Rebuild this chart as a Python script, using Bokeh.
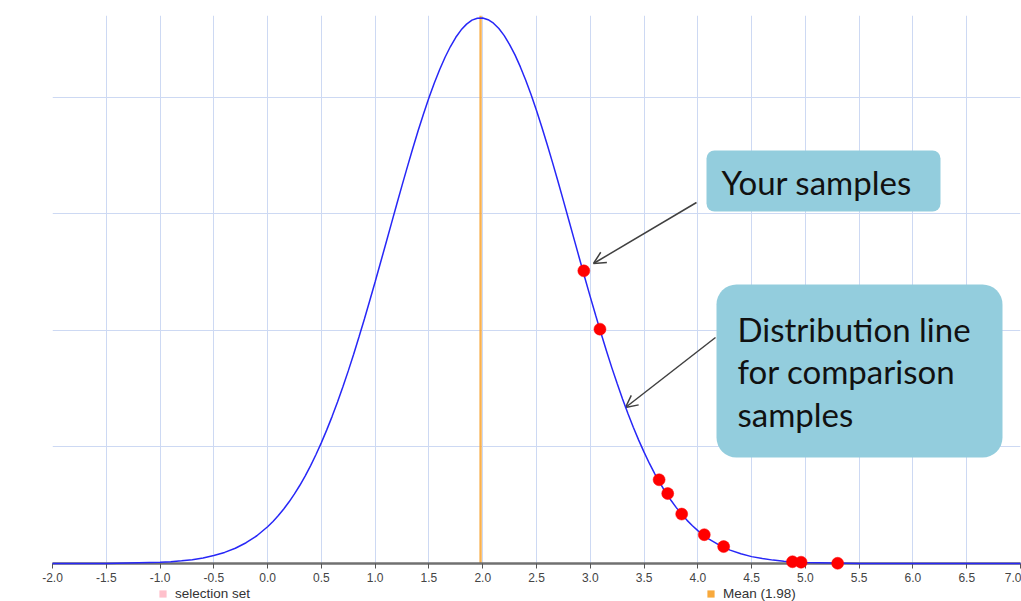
from bokeh.plotting import figure
from bokeh.layouts import column
from bokeh.models import (Range1d, FixedTicker, NumeralTickFormatter, BoxAnnotation,
                          Label, Arrow, OpenHead, Legend, LegendItem)
from bokeh.embed import file_html
from bokeh.resources import INLINE

# ---- data ----
curve_x = [-2.0, -1.5, -1.0, -0.9, -0.8, -0.7, -0.6, -0.5, -0.4, -0.3, -0.2, -0.1,
           0.0, 0.05, 0.1, 0.15, 0.2, 0.25, 0.3, 0.35, 0.4, 0.45,
           0.5, 0.55, 0.6, 0.65, 0.7, 0.75, 0.8, 0.85, 0.9, 0.95,
           1.0, 1.05, 1.1, 1.15, 1.2, 1.25, 1.3, 1.35, 1.4, 1.45,
           1.5, 1.55, 1.6, 1.65, 1.7, 1.75, 1.8, 1.85, 1.9, 1.95,
           2.0, 2.05, 2.1, 2.15, 2.2, 2.25, 2.3, 2.35, 2.4, 2.45,
           2.5, 2.55, 2.6, 2.65, 2.7, 2.75, 2.8, 2.85, 2.9, 2.95,
           3.0, 3.05, 3.1, 3.15, 3.2, 3.25, 3.3, 3.35, 3.4, 3.45,
           3.5, 3.55, 3.6, 3.65, 3.7, 3.75, 3.8, 3.85, 3.9, 3.95,
           4.0, 4.1, 4.2, 4.3, 4.4, 4.5, 4.6, 4.7, 4.8, 4.9,
           5.0, 5.5, 6.0, 7.0]
curve_y = [0.0, 0.0001, 0.0010, 0.0016, 0.0023, 0.0033, 0.0048, 0.0068, 0.0095, 0.0131, 0.0178, 0.0238,
           0.0315, 0.0361, 0.0411, 0.0467, 0.0529, 0.0597, 0.0671, 0.0752, 0.0840, 0.0935,
           0.1037, 0.1146, 0.1262, 0.1385, 0.1516, 0.1652, 0.1795, 0.1944, 0.2097, 0.2255,
           0.2417, 0.2581, 0.2747, 0.2913, 0.3079, 0.3243, 0.3404, 0.3562, 0.3713, 0.3857,
           0.3994, 0.4121, 0.4237, 0.4342, 0.4434, 0.4513, 0.4577, 0.4626, 0.4660, 0.4677,
           0.4679, 0.4664, 0.4634, 0.4588, 0.4527, 0.4451, 0.4362, 0.4259, 0.4145, 0.4020,
           0.3885, 0.3742, 0.3592, 0.3436, 0.3276, 0.3112, 0.2946, 0.2780, 0.2614, 0.2449,
           0.2287, 0.2129, 0.1974, 0.1825, 0.1680, 0.1543, 0.1411, 0.1286, 0.1168, 0.1058,
           0.0955, 0.0858, 0.0769, 0.0687, 0.0611, 0.0542, 0.0479, 0.0422, 0.0370, 0.0324,
           0.0282, 0.0212, 0.0158, 0.0115, 0.0083, 0.0059, 0.0042, 0.0029, 0.0020, 0.0013,
           0.0009, 0.0001, 0.0, 0.0]

sample_x = [2.94, 3.09, 3.64, 3.72, 3.85, 4.06, 4.24, 4.88, 4.96, 5.30]
sample_y = [0.251, 0.201, 0.0718, 0.0600, 0.0424, 0.0247, 0.0145, 0.0015, 0.0011, 0.0002]

mean_value = 1.98
x_ticks = [-2.0, -1.5, -1.0, -0.5, 0.0, 0.5, 1.0, 1.5, 2.0, 2.5, 3.0, 3.5,
           4.0, 4.5, 5.0, 5.5, 6.0, 6.5, 7.0]
y_grid = [0.1, 0.2, 0.3, 0.4]
legend_labels = ["selection set", "Mean (1.98)"]
legend_colors = ["#ffc0cb", "#f8a93c"]
callout_1 = "Your samples"
callout_2 = ["Distribution line", "for comparison", "samples"]

Y_TOP = 0.47

# ---- main figure ----
p = figure(width=1021, height=586, output_backend="svg", toolbar_location=None,
           x_range=Range1d(-2.0, 7.0), y_range=Range1d(0, Y_TOP),
           y_axis_location=None,
           min_border_left=52, min_border_right=1, min_border_top=15, min_border_bottom=23)
p.outline_line_color = None
p.background_fill_color = "white"

# frame pixel -> data helpers for annotation placement
def X(px):
    return -2.0 + (px - 52) * 9.0 / 968

def Y(py):
    return (563 - py) * Y_TOP / 548

grid_color = "#cdd9f3"
p.xgrid.ticker = FixedTicker(ticks=x_ticks)
p.ygrid.ticker = FixedTicker(ticks=y_grid)
p.xgrid.grid_line_color = grid_color
p.ygrid.grid_line_color = grid_color

ax = p.xaxis[0]
ax.ticker = FixedTicker(ticks=x_ticks)
ax.formatter = NumeralTickFormatter(format="0.0")
ax.axis_line_color = "#707070"
ax.axis_line_width = 2.5
ax.major_tick_line_color = "#555555"
ax.major_tick_out = 5
ax.major_tick_in = 0
ax.minor_tick_line_color = None
ax.major_label_text_font = "Liberation Sans"
ax.major_label_text_font_size = "12px"
ax.major_label_text_color = "#444444"
ax.major_label_standoff = 4

# mean line (thin bar spanning the plot height)
p.vbar(x=[mean_value], top=[Y_TOP], bottom=[0], width=0.022,
       fill_color=legend_colors[1], fill_alpha=0.9, line_color=None)

# distribution curve
p.line(curve_x, curve_y, line_color="#2727f7", line_width=1.5, level="overlay")

# samples
p.scatter(sample_x, sample_y, size=12, fill_color="#ff0000", line_color="#ff0000",
          line_width=0.5, level="overlay")

# callouts
box_color = "#93cddd"
p.add_layout(BoxAnnotation(left=X(706), right=X(940), top=Y(150), bottom=Y(211),
                           fill_color=box_color, fill_alpha=1, line_alpha=0,
                           border_radius=8, level="overlay"))
p.add_layout(BoxAnnotation(left=X(716), right=X(1002), top=Y(284), bottom=Y(457),
                           fill_color=box_color, fill_alpha=1, line_alpha=0,
                           border_radius=20, level="overlay"))

text_kw = dict(text_font="Lato", text_font_size="33px", text_color="#111111",
               text_baseline="alphabetic", level="overlay")
p.add_layout(Label(x=X(721), y=Y(181), text=callout_1, **text_kw))
for line_text, base in zip(callout_2, [328, 370, 413]):
    p.add_layout(Label(x=X(737), y=Y(base), text=line_text, **text_kw))

arrow_color = "#404040"
p.add_layout(Arrow(end=OpenHead(size=12, line_color=arrow_color, line_width=1.5),
                   x_start=X(696), y_start=Y(202), x_end=X(593), y_end=Y(263),
                   line_color=arrow_color, line_width=1.5))
p.add_layout(Arrow(end=OpenHead(size=12, line_color=arrow_color, line_width=1.5),
                   x_start=X(715), y_start=Y(337), x_end=X(625), y_end=Y(407),
                   line_color=arrow_color, line_width=1.5))

# ---- legend strip ----
lg = figure(width=1021, height=15, output_backend="svg", toolbar_location=None,
            x_range=Range1d(0, 1), y_range=Range1d(0, 1),
            x_axis_location=None, y_axis_location=None,
            min_border_left=0, min_border_right=0, min_border_top=0, min_border_bottom=0)
lg.outline_line_color = None
lg.xgrid.visible = False
lg.ygrid.visible = False

# zero-size proxies that only carry the legend swatches
proxies = [lg.vbar(x=[0.5], top=[0], bottom=[0], width=0, fill_color=c, line_color=None)
           for c in legend_colors]

for label, rend, xoff in zip(legend_labels, proxies, [106, 654]):
    lg.add_layout(Legend(items=[LegendItem(label=label, renderers=[rend])],
                         location=(xoff, 0), orientation="horizontal",
                         padding=0, margin=0, border_line_color=None,
                         background_fill_alpha=0, glyph_width=9, glyph_height=9,
                         label_height=9, label_standoff=8,
                         label_text_font="Liberation Sans", label_text_font_size="13.5px",
                         label_text_color="#333333"))

layout = column(p, lg, spacing=0)
open("out.html", "w").write(file_html(layout, INLINE))
